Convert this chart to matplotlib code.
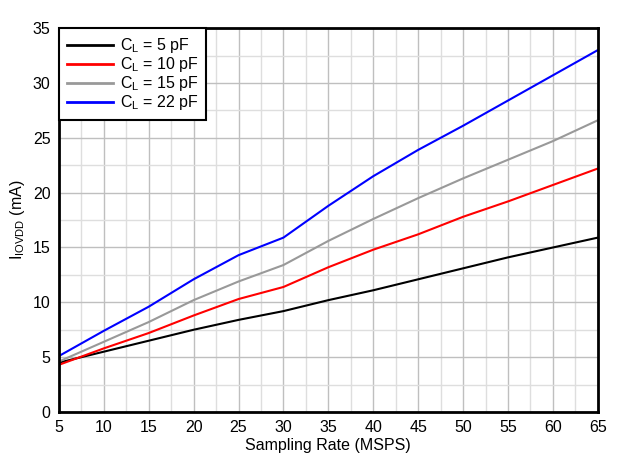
import matplotlib
matplotlib.use("Agg")
import matplotlib.pyplot as plt
from matplotlib.ticker import MultipleLocator

plt.rcParams['font.family'] = ['Liberation Sans', 'DejaVu Sans']

rate = [5, 10, 15, 20, 25, 30, 35, 40, 45, 50, 55, 60, 65]
i_5pf = [4.5, 5.5, 6.5, 7.5, 8.4, 9.2, 10.2, 11.1, 12.1, 13.1, 14.1, 15.0, 15.9]
i_10pf = [4.3, 5.8, 7.2, 8.8, 10.3, 11.4, 13.2, 14.8, 16.2, 17.8, 19.2, 20.7, 22.2]
i_15pf = [4.6, 6.4, 8.2, 10.2, 11.9, 13.4, 15.6, 17.6, 19.5, 21.3, 23.0, 24.7, 26.6]
i_22pf = [5.1, 7.4, 9.6, 12.1, 14.3, 15.9, 18.8, 21.5, 23.9, 26.1, 28.4, 30.7, 33.0]

labels = ['C$_\\mathregular{L}$ = 5 pF', 'C$_\\mathregular{L}$ = 10 pF',
          'C$_\\mathregular{L}$ = 15 pF', 'C$_\\mathregular{L}$ = 22 pF']
colors = ['#000000', '#ff0000', '#999999', '#0000ff']

fig = plt.figure(figsize=(6.26, 4.69), dpi=100)
ax = fig.add_axes([0.094, 0.1215, 0.861, 0.8185])

for ys, lab, c in zip([i_5pf, i_10pf, i_15pf, i_22pf], labels, colors):
    ax.plot(rate, ys, color=c, lw=1.5, label=lab)

ax.set_xlim(5, 65)
ax.set_ylim(0, 35)
ax.xaxis.set_major_locator(MultipleLocator(5))
ax.yaxis.set_major_locator(MultipleLocator(5))
ax.xaxis.set_minor_locator(MultipleLocator(2.5))
ax.yaxis.set_minor_locator(MultipleLocator(2.5))
ax.grid(which='major', color='#bfbfbf', lw=1)
ax.grid(which='minor', color='#dedede', lw=1)
ax.set_axisbelow(True)
ax.tick_params(which='both', length=0, labelsize=11.5, pad=6)
for s in ax.spines.values():
    s.set_linewidth(2)

ax.set_xlabel('Sampling Rate (MSPS)', fontsize=11.5, labelpad=2)
ax.set_ylabel('I$_\\mathregular{IOVDD}$ (mA)', fontsize=11.5, labelpad=4)

leg = ax.legend(loc='upper left', fontsize=11.5, fancybox=False, framealpha=1,
                borderaxespad=0, handlelength=2.9, labelspacing=0.0,
                borderpad=0.5, handletextpad=0.4)
leg.get_frame().set_edgecolor('black')
leg.get_frame().set_linewidth(1.5)
for line in leg.get_lines():
    line.set_linewidth(2)

fig.savefig('out.png', dpi=100)
